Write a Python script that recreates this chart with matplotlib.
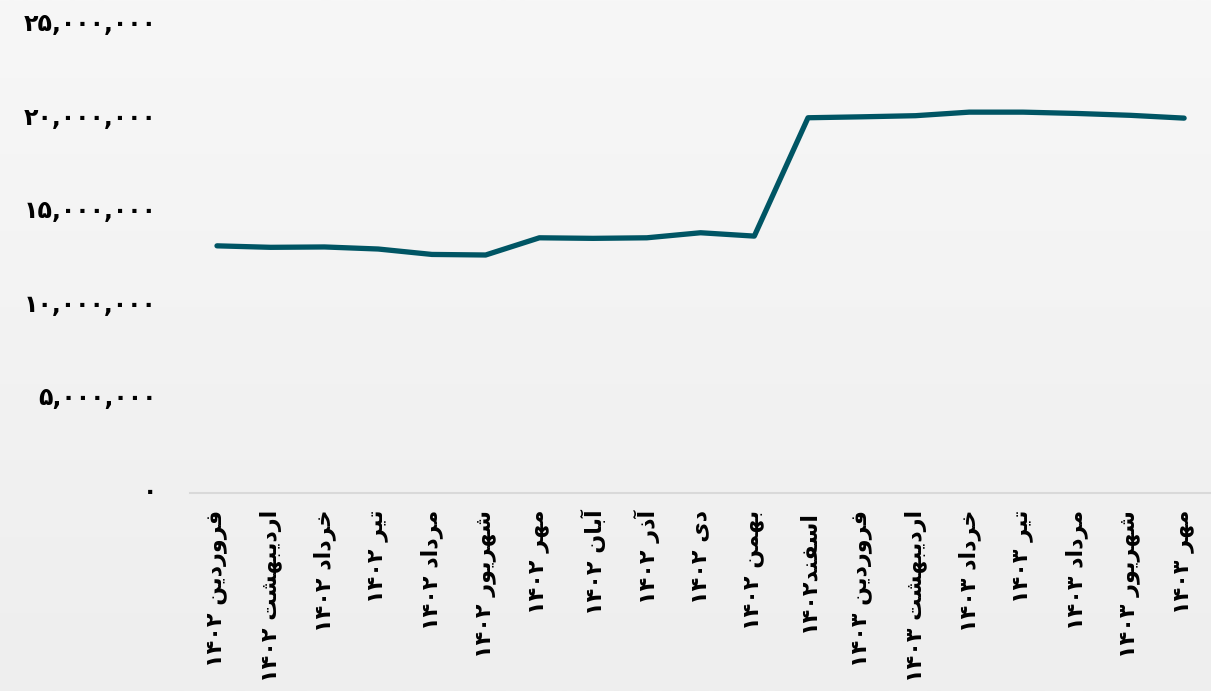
import matplotlib
matplotlib.use("Agg")
import matplotlib.pyplot as plt
import numpy as np
from matplotlib import font_manager
from matplotlib.ticker import FuncFormatter, FixedLocator
from matplotlib.colors import LinearSegmentedColormap
from matplotlib.transforms import ScaledTranslation

# ---------------- data ----------------
months = ["فروردین ۱۴۰۲", "اردیبهشت ۱۴۰۲", "خرداد ۱۴۰۲", "تیر ۱۴۰۲", "مرداد ۱۴۰۲",
          "شهریور ۱۴۰۲", "مهر ۱۴۰۲", "آبان ۱۴۰۲", "آذر ۱۴۰۲", "دی ۱۴۰۲", "بهمن ۱۴۰۲",
          "اسفند۱۴۰۲", "فروردین ۱۴۰۳", "اردیبهشت ۱۴۰۳", "خرداد ۱۴۰۳", "تیر ۱۴۰۳",
          "مرداد ۱۴۰۳", "شهریور ۱۴۰۳", "مهر ۱۴۰۳"]
values = [13.22e6, 13.14e6, 13.16e6, 13.05e6, 12.76e6, 12.73e6, 13.65e6, 13.62e6,
          13.65e6, 13.92e6, 13.74e6, 20.07e6, 20.12e6, 20.18e6, 20.37e6, 20.37e6,
          20.30e6, 20.20e6, 20.05e6]
y_ticks = [0, 5e6, 10e6, 15e6, 20e6, 25e6]

# ---------------- Persian shaping (no external libs) ----------------
FONT = "DejaVu Sans"
try:
    from matplotlib.ft2font import FT2Font
    path = font_manager.findfont(font_manager.FontProperties(family=FONT, weight="bold"))
    cmap_chars = set(FT2Font(path).get_charmap().keys())
except Exception:
    cmap_chars = set()

has_fa_yeh = all(c in cmap_chars for c in (0xFBFC, 0xFBFD, 0xFBFE, 0xFBFF))
yeh_forms = (0xFBFC, 0xFBFD, 0xFBFE, 0xFBFF) if has_fa_yeh else (0xFEEF, 0xFEF0, 0xFEF3, 0xFEF4)

FORMS = {
    "ا": (0xFE8D, 0xFE8E, None, None),
    "آ": (0xFE81, 0xFE82, None, None),
    "د": (0xFEA9, 0xFEAA, None, None),
    "ذ": (0xFEAB, 0xFEAC, None, None),
    "ر": (0xFEAD, 0xFEAE, None, None),
    "ز": (0xFEAF, 0xFEB0, None, None),
    "و": (0xFEED, 0xFEEE, None, None),
    "ب": (0xFE8F, 0xFE90, 0xFE91, 0xFE92),
    "ت": (0xFE95, 0xFE96, 0xFE97, 0xFE98),
    "خ": (0xFEA5, 0xFEA6, 0xFEA7, 0xFEA8),
    "س": (0xFEB1, 0xFEB2, 0xFEB3, 0xFEB4),
    "ش": (0xFEB5, 0xFEB6, 0xFEB7, 0xFEB8),
    "ف": (0xFED1, 0xFED2, 0xFED3, 0xFED4),
    "ق": (0xFED5, 0xFED6, 0xFED7, 0xFED8),
    "م": (0xFEE1, 0xFEE2, 0xFEE3, 0xFEE4),
    "ن": (0xFEE5, 0xFEE6, 0xFEE7, 0xFEE8),
    "ه": (0xFEE9, 0xFEEA, 0xFEEB, 0xFEEC),
    "ی": yeh_forms,
}


def joins_left(ch):
    return ch in FORMS and FORMS[ch][2] is not None


def shape_word(word):
    out = []
    n = len(word)
    for i, ch in enumerate(word):
        if ch not in FORMS:
            out.append(ch)
            continue
        iso, fin, ini, med = FORMS[ch]
        prev_join = i > 0 and joins_left(word[i - 1])
        next_join = i < n - 1 and word[i + 1] in FORMS and joins_left(ch)
        if prev_join and next_join:
            f = med
        elif prev_join:
            f = fin
        elif next_join:
            f = ini
        else:
            f = iso
        out.append(chr(f))
    return "".join(out)


def is_digit(ch):
    return "\u06F0" <= ch <= "\u06F9" or ch.isdigit()


def visual(text):
    runs = []
    cur = ""
    cur_type = None
    for ch in text:
        t = "d" if is_digit(ch) else ("s" if ch == " " else "a")
        if t != cur_type and cur:
            runs.append((cur_type, cur))
            cur = ""
        cur += ch
        cur_type = t
    if cur:
        runs.append((cur_type, cur))
    pieces = []
    for t, s in runs:
        if t == "a":
            pieces.append(shape_word(s)[::-1])
        else:
            pieces.append(s)
    return "".join(pieces[::-1])


FA_DIGITS = str.maketrans("0123456789", "۰۱۲۳۴۵۶۷۸۹")


def fa_number(v, pos=None):
    return f"{int(round(v)):,}".translate(FA_DIGITS)


# ---------------- figure ----------------
fig = plt.figure(figsize=(12.11, 6.91), dpi=100)

bg = fig.add_axes([0, 0, 1, 1], zorder=-10)
grad = np.linspace(0, 1, 256).reshape(-1, 1)
cm = LinearSegmentedColormap.from_list("bg", ["#f7f7f7", "#eeeeee"])
bg.imshow(grad, aspect="auto", cmap=cm, extent=[0, 1, 0, 1], origin="upper")
bg.axis("off")

ax = fig.add_axes([0.157, 0.2865, 0.843, 0.6765])
ax.set_facecolor("none")

x = np.arange(len(months))
ax.plot(x, values, color="#005564", linewidth=3.8, solid_capstyle="round",
        solid_joinstyle="round", zorder=3)

ax.set_xlim(-0.5, len(months) - 0.5)
ax.set_ylim(0, 25e6)
ax.yaxis.set_major_locator(FixedLocator(y_ticks))
ax.yaxis.set_major_formatter(FuncFormatter(fa_number))

ax.set_xticks(x)
ax.set_xticklabels([visual(m) for m in months], rotation=90, fontsize=16,
                   fontweight="bold", family=FONT)

ax.tick_params(axis="y", length=0, pad=24)
ax.tick_params(axis="x", length=0, pad=12)

shift_up = ScaledTranslation(0, 4 / 100, fig.dpi_scale_trans)
for tick in ax.yaxis.get_major_ticks(len(y_ticks)):
    lab = tick.label1
    lab.set_fontsize(17)
    lab.set_fontweight("bold")
    lab.set_family(FONT)
    lab.set_transform(lab.get_transform() + shift_up)

for s in ("top", "right", "left"):
    ax.spines[s].set_visible(False)
ax.spines["bottom"].set_color("#d9d9d9")
ax.spines["bottom"].set_linewidth(1.5)

fig.savefig("out.png", dpi=100)
